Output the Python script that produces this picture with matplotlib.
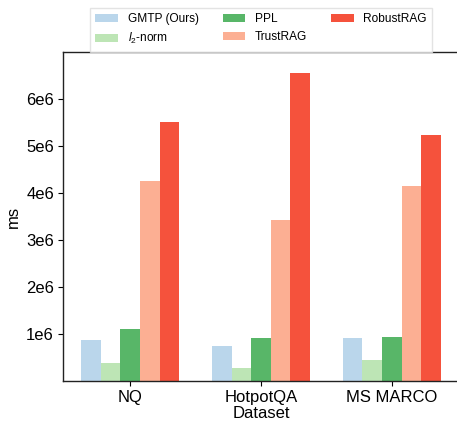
import matplotlib
matplotlib.use("Agg")
import matplotlib.pyplot as plt
import numpy as np

plt.rcParams['font.family'] = ['Liberation Sans', 'DejaVu Sans']
plt.rcParams['mathtext.fontset'] = 'custom'
plt.rcParams['mathtext.it'] = 'Liberation Sans:italic'
plt.rcParams['mathtext.rm'] = 'Liberation Sans'

datasets = ["NQ", "HotpotQA", "MS MARCO"]
methods = ["GMTP (Ours)", "$l_2$-norm", "PPL", "TrustRAG", "RobustRAG"]
gmtp = [0.87e6, 0.74e6, 0.91e6]
l2norm = [0.38e6, 0.27e6, 0.44e6]
ppl = [1.10e6, 0.91e6, 0.93e6]
trustrag = [4.26e6, 3.43e6, 4.15e6]
robustrag = [5.51e6, 6.55e6, 5.23e6]
series = [gmtp, l2norm, ppl, trustrag, robustrag]
colors = ["#bad6eb", "#bde5b5", "#58b668", "#fcaf93", "#f5523c"]
yticks = [1e6, 2e6, 3e6, 4e6, 5e6, 6e6]
ytick_labels = ["1e6", "2e6", "3e6", "4e6", "5e6", "6e6"]

fig = plt.figure(figsize=(4.57, 4.21), dpi=100)
ax = fig.add_axes([63/457, 1 - 381/421, (459-63)/457, (381-52)/421])

x = np.arange(len(datasets))
w = 0.15
for i, (vals, lab, col) in enumerate(zip(series, methods, colors)):
    ax.bar(x + (i - 2) * w, vals, w, label=lab, color=col, linewidth=0)

ax.set_xlim(-0.5125, 2.5125)
ax.set_ylim(0, 7e6)
ax.set_xticks(x)
ax.set_xticklabels(datasets, fontsize=12)
ax.set_yticks(yticks)
ax.set_yticklabels(ytick_labels, fontsize=12)
ax.set_xlabel("Dataset", fontsize=12, labelpad=1)
ax.set_ylabel("ms", fontsize=12, labelpad=4)
ax.tick_params(axis='both', direction='out', length=3.5, width=0.8, pad=3)
for s in ax.spines.values():
    s.set_linewidth(1.0)
    s.set_color('#222222')
ax.spines['right'].set_visible(False)

leg = fig.legend(*ax.get_legend_handles_labels(), loc='upper center',
                 bbox_to_anchor=(261/457, 1 - 8/421), ncol=3, fontsize=8.6,
                 frameon=True, columnspacing=2.0, handlelength=1.9, handletextpad=0.8,
                 labelspacing=0.5, borderpad=0.45, borderaxespad=0, fancybox=False)
leg.get_frame().set_edgecolor('#dddddd')

fig.savefig("out.png", dpi=100)
